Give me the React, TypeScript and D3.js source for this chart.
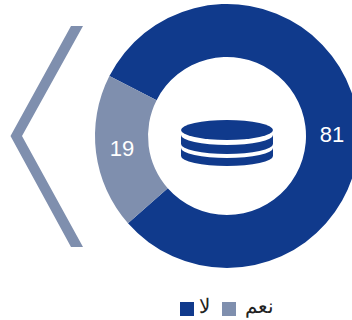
import React from "react";
import * as d3 from "d3";

// Survey answers, in drawing order
const answers = ["لا", "نعم"];
const shares = [81, 19];
const answerColors = ["#103a8c", "#7f8fae"];
const legendOrder = [0, 1];

const WIDTH = 352;
const HEIGHT = 320;
const CX = 227;
const CY = 136;
const OUTER = 132;
const INNER = 79;
const START = (297 * Math.PI) / 180;

const chevron = d3.line()([
  [71, 26],
  [83, 26],
  [22, 136],
  [83, 247],
  [71, 247],
  [10.5, 136],
]) + "Z";

// Stacked-disc emblem in the donut's hole
function Coins() {
  const cx = 227;
  const rx = 46;
  const ry = 10;
  const band = (top: number, h: number) =>
    `M${cx - rx},${top}A${rx},${ry} 0 0 0 ${cx + rx},${top}V${top + h}A${rx},${ry} 0 0 1 ${cx - rx},${top + h}Z`;
  return (
    <g fill={answerColors[0]}>
      <ellipse cx={cx} cy={130} rx={rx} ry={ry} />
      <path d={band(135, 9)} />
      <path d={band(148, 8)} />
    </g>
  );
}

export default function App() {
  const pie = d3.pie<number>().sort(null).startAngle(START).endAngle(START + 2 * Math.PI);
  const arc = d3.arc<d3.PieArcDatum<number>>().innerRadius(INNER).outerRadius(OUTER);
  const slices = pie(shares);
  return (
    <svg
      width={WIDTH}
      height={HEIGHT}
      style={{ position: "absolute", left: 0, top: 0, background: "#fff" }}
    >
      <path d={chevron} fill={answerColors[1]} />
      <g transform={`translate(${CX},${CY})`}>
        {slices.map((s, i) => (
          <path key={i} d={arc(s) ?? ""} fill={answerColors[i]} />
        ))}
      </g>
      <Coins />
      <text x={332} y={142} textAnchor="middle" fontFamily="Liberation Sans" fontSize={22} fill="#fff">
        {shares[0]}
      </text>
      <text x={122} y={156} textAnchor="middle" fontFamily="Liberation Sans" fontSize={22} fill="#fff">
        {shares[1]}
      </text>
      {legendOrder.map((i) => {
        const x = i === 0 ? 180 : 222;
        return (
          <g key={i}>
            <rect x={x} y={302} width={14} height={14} fill={answerColors[i]} />
            <text
              x={i === 0 ? 199 : 245}
              y={313}
              fontFamily="Noto Sans"
              fontSize={20}
              fill="#222"
            >
              {answers[i]}
            </text>
          </g>
        );
      })}
    </svg>
  );
}
